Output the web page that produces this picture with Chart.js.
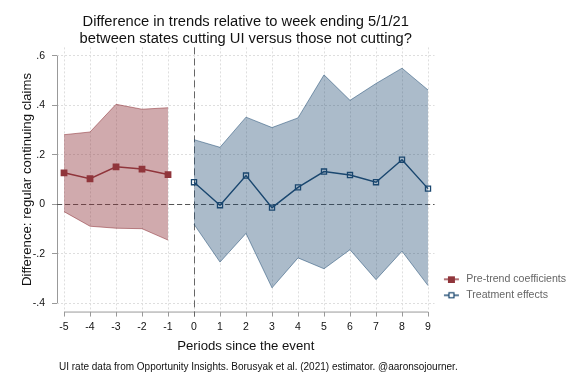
<!DOCTYPE html>
<html lang="en">
<head>
  <meta charset="UTF-8">
  <title>Difference in trends relative to week ending 5/1/21</title>
  <script src="https://cdn.jsdelivr.net/npm/chart.js"></script>
  <style>
    body { margin: 0; padding: 0; background: #fff; font-family: "Liberation Sans", Arial, sans-serif; }
    #wrap { position: relative; width: 576px; height: 384px; }
    #note {
      position: absolute; left: 59px; top: 362px;
      font-size: 10px; line-height: 1; color: #111; white-space: nowrap;
    }
  </style>
</head>
<body>
  <div id="wrap">
    <canvas id="esChart"></canvas>
    <div id="note">UI rate data from Opportunity Insights. Borusyak et al. (2021) estimator. @aaronsojourner.</div>
  </div>

  <script>
    // periods before / after the event
    const prePeriods = [-5, -4, -3, -2, -1];
    const preCoef = [0.127, 0.103, 0.151, 0.142, 0.120];
    const preHi = [0.281, 0.292, 0.404, 0.384, 0.390];
    const preLo = [-0.030, -0.089, -0.097, -0.099, -0.145];

    const postPeriods = [0, 1, 2, 3, 4, 5, 6, 7, 8, 9];
    const postCoef = [0.089, -0.004, 0.116, -0.014, 0.068, 0.132, 0.118, 0.089, 0.180, 0.063];
    const postHi = [0.261, 0.230, 0.352, 0.310, 0.349, 0.523, 0.420, 0.488, 0.550, 0.462];
    const postLo = [-0.081, -0.234, -0.118, -0.338, -0.217, -0.261, -0.184, -0.305, -0.190, -0.329];

    const yTickVals = [-0.4, -0.2, 0, 0.2, 0.4, 0.6];
    const xTickVals = [-5, -4, -3, -2, -1, 0, 1, 2, 3, 4, 5, 6, 7, 8, 9];

    const FONT = '"Liberation Sans", Arial, sans-serif';
    const RED = 'rgb(144, 53, 59)';
    const NAVY = 'rgb(26, 71, 111)';

    function pts(xs, ys) {
      return xs.map((x, i) => ({ x: x, y: ys[i] }));
    }

    function yLabel(v) {
      if (Math.abs(v) < 1e-9) return '0';
      return (v < 0 ? '-' : '') + Math.abs(v).toFixed(1).replace(/^0/, '');
    }

    // little line + square icons for the legend (a few blank px on the left)
    function legendIcon(color, hollow) {
      const c = document.createElement('canvas');
      c.width = 21; c.height = 8;
      const g = c.getContext('2d');
      g.strokeStyle = color;
      g.lineWidth = 1.4;
      g.beginPath(); g.moveTo(4, 4); g.lineTo(19, 4); g.stroke();
      if (hollow) {
        g.fillStyle = '#fff';
        g.fillRect(9, 1.5, 5, 5);
        g.lineWidth = 1.2;
        g.strokeRect(9, 1.5, 5, 5);
      } else {
        g.fillStyle = color;
        g.fillRect(8, 1, 7, 7);
      }
      return c;
    }

    // axis lines (Stata style, only across the tick range) and the dashed reference lines
    const refLines = {
      id: 'refLines',
      beforeDatasetsDraw(chart) {
        const { ctx, chartArea, scales: { x, y } } = chart;
        ctx.save();
        ctx.lineWidth = 1;
        ctx.strokeStyle = '#999';
        ctx.beginPath();
        ctx.moveTo(chartArea.left + 0.5, y.getPixelForValue(yTickVals[0]));
        ctx.lineTo(chartArea.left + 0.5, y.getPixelForValue(yTickVals[yTickVals.length - 1]));
        ctx.moveTo(x.getPixelForValue(xTickVals[0]), chartArea.bottom + 0.5);
        ctx.lineTo(x.getPixelForValue(xTickVals[xTickVals.length - 1]), chartArea.bottom + 0.5);
        ctx.stroke();

        ctx.strokeStyle = '#555';
        ctx.setLineDash([5, 3]);
        const y0 = Math.round(y.getPixelForValue(0)) + 0.5;
        ctx.beginPath();
        ctx.moveTo(chartArea.left, y0);
        ctx.lineTo(chartArea.right, y0);
        ctx.stroke();

        ctx.strokeStyle = '#666';
        ctx.setLineDash([7, 4]);
        const x0 = Math.round(x.getPixelForValue(0)) + 0.5;
        ctx.beginPath();
        ctx.moveTo(x0, chartArea.top);
        ctx.lineTo(x0, chartArea.bottom + 5);
        ctx.stroke();
        ctx.restore();
      }
    };

    const ctx = document.getElementById('esChart').getContext('2d');
    new Chart(ctx, {
      type: 'line',
      data: {
        datasets: [
          {
            label: 'Pre-trend coefficients',
            data: pts(prePeriods, preCoef),
            borderColor: RED,
            backgroundColor: RED,
            borderWidth: 1.5,
            pointStyle: 'rect',
            pointRadius: 4.8,
            pointBorderWidth: 0,
            fill: false,
            tension: 0,
            order: 1
          },
          {
            label: 'Treatment effects',
            data: pts(postPeriods, postCoef),
            borderColor: NAVY,
            backgroundColor: 'rgba(0,0,0,0)',
            borderWidth: 1.4,
            pointStyle: 'rect',
            pointRadius: 3.6,
            pointBorderWidth: 1.3,
            fill: false,
            tension: 0,
            order: 1
          },
          {
            label: 'preHi',
            data: pts(prePeriods, preHi),
            borderColor: 'rgba(144, 53, 59, 0.55)',
            borderWidth: 1,
            backgroundColor: 'rgba(144, 53, 59, 0.42)',
            pointRadius: 0,
            fill: '+1',
            tension: 0,
            order: 2
          },
          {
            label: 'preLo',
            data: pts(prePeriods, preLo),
            borderColor: 'rgba(144, 53, 59, 0.55)',
            borderWidth: 1,
            pointRadius: 0,
            fill: false,
            tension: 0,
            order: 2
          },
          {
            label: 'postHi',
            data: pts(postPeriods, postHi),
            borderColor: 'rgba(26, 71, 111, 0.5)',
            borderWidth: 1,
            backgroundColor: 'rgba(26, 71, 111, 0.37)',
            pointRadius: 0,
            fill: '+1',
            tension: 0,
            order: 2
          },
          {
            label: 'postLo',
            data: pts(postPeriods, postLo),
            borderColor: 'rgba(26, 71, 111, 0.5)',
            borderWidth: 1,
            pointRadius: 0,
            fill: false,
            tension: 0,
            order: 2
          }
        ]
      },
      options: {
        responsive: true,
        maintainAspectRatio: false,
        animation: false,
        layout: { padding: { top: 13, left: 19, right: 3, bottom: 30 } },
        scales: {
          x: {
            type: 'linear',
            min: -5.27,
            max: 9.25,
            border: { display: false, dash: [2, 2] },
            grid: { color: '#dedede', tickColor: '#999', tickLength: 5, tickBorderDash: [] },
            ticks: {
              stepSize: 1,
              includeBounds: false,
              padding: 4.5,
              color: '#111',
              font: { family: FONT, size: 10.5 },
              maxRotation: 0
            },
            title: {
              display: true,
              text: 'Periods since the event',
              color: '#111',
              font: { family: FONT, size: 13.2 },
              padding: { top: 0, bottom: 0 }
            }
          },
          y: {
            type: 'linear',
            min: -0.434,
            max: 0.634,
            afterFit: s => { s.width = 38; },
            border: { display: false, dash: [2, 2] },
            grid: { color: '#dedede', tickColor: '#999', tickLength: 5, tickBorderDash: [] },
            ticks: {
              stepSize: 0.2,
              includeBounds: false,
              padding: 7,
              color: '#111',
              font: { family: FONT, size: 10.5 },
              callback: v => yLabel(v)
            },
            title: {
              display: true,
              text: 'Difference: regular continuing claims',
              color: '#111',
              font: { family: FONT, size: 13.2 },
              padding: { top: 0, bottom: 0 }
            }
          }
        },
        plugins: {
          title: {
            display: true,
            fullSize: false,
            text: ['Difference in trends relative to week ending 5/1/21',
                   'between states cutting UI versus those not cutting?'],
            color: '#111',
            font: { family: FONT, size: 14.7, weight: 'normal', lineHeight: 1.17 },
            padding: { top: 0, bottom: 0 }
          },
          legend: {
            position: 'right',
            align: 'start',
            fullSize: false,
            // an empty legend title pushes the two entries down to the lower right
            title: { display: true, text: '', font: { size: 1 }, padding: { top: 220, bottom: 0 } },
            labels: {
              usePointStyle: true,
              pointStyleWidth: 21,
              padding: 5.4,
              color: '#111',
              font: { family: FONT, size: 10.6 },
              generateLabels: () => [
                { text: 'Pre-trend coefficients', pointStyle: legendIcon(RED, false),
                  fillStyle: RED, strokeStyle: RED, lineWidth: 0, hidden: false, datasetIndex: 0 },
                { text: 'Treatment effects', pointStyle: legendIcon(NAVY, true),
                  fillStyle: '#fff', strokeStyle: NAVY, lineWidth: 0, hidden: false, datasetIndex: 1 }
              ]
            }
          },
          tooltip: { enabled: false }
        }
      },
      plugins: [refLines]
    });
  </script>
</body>
</html>
